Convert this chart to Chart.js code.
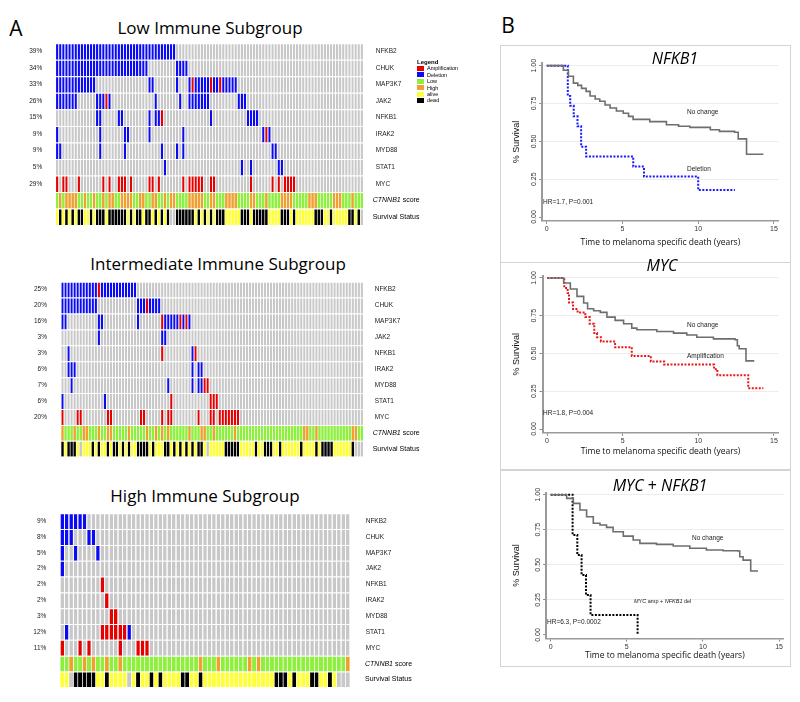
<!DOCTYPE html>
<html>
<head>
<meta charset="utf-8">
<title>NF-kB pathway alterations by immune subgroup and survival</title>
<script src="https://cdn.jsdelivr.net/npm/chart.js@4.4.1/dist/chart.umd.min.js"></script>
<style>
  body { margin: 0; background: #fff; }
  #page { position: relative; width: 800px; height: 702px; overflow: hidden; font-family: 'Liberation Sans', Arial, sans-serif; color: #000; }
  canvas { position: absolute; }
  .t { position: absolute; white-space: nowrap; line-height: 1; }
  .c { transform: translate(-50%, -50%); }
  .l { transform: translateY(-50%); }
  .sub { font-family: 'Open Sans', sans-serif; font-size: 17px; }
  .letter { font-family: 'Open Sans', sans-serif; font-size: 21px; }
  .kmt { font-family: 'Open Sans', sans-serif; font-size: 16px; font-style: italic; }
  .note { font-size: 6.5px; color: #222; }
  .box { position: absolute; border: 1px solid #d4d4d4; box-sizing: border-box; }
  #legend { position: absolute; left: 417px; top: 59px; font-size: 5.5px; line-height: 6.4px; }
  #legend b { display: block; font-size: 6px; }
  #legend span { display: inline-block; width: 7px; height: 5px; margin-right: 3px; vertical-align: -0.5px; }
</style>
</head>
<body>
<div id="page">
  <div class="t c letter" style="left:16px;top:28px">A</div>
  <div class="t c letter" style="left:508px;top:25px">B</div>

  <div class="t c sub" style="left:210px;top:27px">Low Immune Subgroup</div>
  <div class="t c sub" style="left:218px;top:263px">Intermediate Immune Subgroup</div>
  <div class="t c sub" style="left:205px;top:495px">High Immune Subgroup</div>

  <canvas id="low"></canvas>
  <canvas id="mid"></canvas>
  <canvas id="high"></canvas>

  <div id="legend">
    <b>Legend</b>
    <div><span style="background:#e60000"></span>Amplification</div>
    <div><span style="background:#0a0af5"></span>Deletion</div>
    <div><span style="background:#8cf03c"></span>Low</div>
    <div><span style="background:#f0a030"></span>High</div>
    <div><span style="background:#ffff38"></span>alive</div>
    <div><span style="background:#000"></span>dead</div>
  </div>

  <div class="box" style="left:500px;top:45px;width:291px;height:218px"></div>
  <div class="box" style="left:500px;top:262px;width:291px;height:208px"></div>
  <div class="box" style="left:500px;top:470px;width:291px;height:197px"></div>
  <canvas id="km1"></canvas>
  <canvas id="km2"></canvas>
  <canvas id="km3"></canvas>

  <div class="t c kmt" style="left:675px;top:58px">NFKB1</div>
  <div class="t c kmt" style="left:662px;top:265px">MYC</div>
  <div class="t c kmt" style="left:660px;top:485px">MYC <span style="font-style:normal">+</span> NFKB1</div>

  <div class="t l note" style="left:687px;top:112px">No change</div>
  <div class="t l note" style="left:687px;top:169px">Deletion</div>
  <div class="t l note" style="left:543px;top:202px">HR=1.7, P=0.001</div>

  <div class="t l note" style="left:687px;top:325px">No change</div>
  <div class="t l note" style="left:687px;top:356px">Amplification</div>
  <div class="t l note" style="left:543px;top:413px">HR=1.8, P=0.004</div>

  <div class="t l note" style="left:692px;top:538px">No change</div>
  <div class="t l note" style="left:634px;top:602px;font-size:5.5px"><i>MYC</i> amp + <i>NFKB1</i> del</div>
  <div class="t l note" style="left:547px;top:622px">HR=6.3, P=0.0002</div>
</div>

<script>
// ---- oncoprint data: one character per sample ----
// D = deletion, A = amplification, . = no change
// CTNNB1 score: L = low, H = high ; survival: a = alive, d = dead, n = no data
const geneNames = ['NFKB2', 'CHUK', 'MAP3K7', 'JAK2', 'NFKB1', 'IRAK2', 'MYD88', 'STAT1', 'MYC'];

const lowPct = ['39%', '34%', '33%', '26%', '15%', '9%', '9%', '5%', '29%', '', ''];
const lowRows = [
  'DDDDDDDDDD DDDDDDDDDD DDDDDDDDDD DDDDDDDDD.',
  'DDDDDDDDDD DDDDDDDDDD DDDDDDDDDD .........D DDD.......',
  'DDDDDDDDDD DDD....... .......... DD.......D ...DADDDDD ADDADDDDD.',
  'DDDDDDD... ...DDDAD.. .......... ..D....... D..DDDDDDD .........D DD........',
  '.......... ...DD..... DD........ D.DDA..... .......... D......... ..DDDD....',
  'D......... ....D..... ..DD...... D......... .D........ .......... .......DAD',
  'DD........ ....D..... ..D....... ....D....D .D........ .......... .......... DD........',
  '.......... .......... .......... .....D.... .......... .......... D..D...... ..DD......',
  'A.AA...A.. .....A.A.. AAA.A..... AA.A...... .A.AAAAA.. AA........ ...A...... A.A.AAAA..',
  'LHLHHHHLLH LLHLLHLHHL LHHHHLLHHL LHHLLHLHHL LLLHHHHHLL HHLLLHHHHL LLLHHLLLHL LLLHHHHLLL LLHHHLLLLL HHHLLLHLLL',
  'adadadadda adadddaddd dddadaddad dadadadnnd dddddadada dadddaaaaa dddaddddda aaadddadaa aaaadddaad aaaaaddadn'
];

const midPct = ['25%', '20%', '16%', '3%', '3%', '6%', '7%', '6%', '20%', '', ''];
const midRows = [
  'DDDDDDDDDD DDADDDDDDD DDDDD.....',
  'DDDDDDDDDD DD........ .....DDDAD DDD.......',
  'DD........ ..DD...... .....D.... ...ADDDDDA DAD.......',
  '.......... ..D....... .......... ...DD.....',
  '..D....... .......... .......... ...A...... ...DA.....',
  '..DDD..... .......... .......... .......... ...D.DD...',
  '...D...... .......... .......... .....D.... ...D.DDAA.',
  'D......... ....D..... .......... ......A... .........A AA........',
  'A....AA... .....AA... ......AA.. ...A.AA... .....A...A A.AAAAAAA.',
  'HLLLHLLHHL LLHLLHHLLL LLHLLLLLHL LHLHLHLLLL LLHLLLHHLL HLLLLLLHLL LLLLLLLLLL LLLLLLLLLL HHLLHLLLLL LLLLLLHHLL',
  'dadddanaaa dadaadadda dadaadddda daaaddadad adadaddana aaaaddddda aaaadaaddd aadaaaaaad aaaadadddd aaaaaadnnn'
];

const highPct = ['9%', '8%', '5%', '2%', '2%', '2%', '3%', '12%', '11%', '', ''];
const highRows = [
  'DDDDDD....',
  'DDD...DD..',
  'D..D....D.',
  'D.........',
  '.........A',
  '.......... A.........',
  '.......... .AA.......',
  '.D.......A AAAAAD....',
  'A...A.A... ...A...AAA',
  'LLHLLHLHLL HLLHLLLLLL LLLLLLLLLL LHLLLHLLLL LLHLHLLLLL LLLLLLLLLL LLLLH',
  'aandddddaa daaaanadaa dadaaaadda adaaaaaaaa aaaaaaaadd dadaaaddaa dannn'
];

// ---- Kaplan-Meier curves: [years, survival] at each step ----
const yearTicks = [0, 5, 10, 15];
const survTicks = [0, 0.25, 0.5, 0.75, 1];

const nfkb1NoChange = [[0, 1], [0.8, 1], [1.1, 0.97], [1.43, 0.93], [1.76, 0.885], [2.05, 0.87], [2.3, 0.85], [2.6, 0.83],
  [2.86, 0.8], [3.2, 0.78], [3.5, 0.765], [3.85, 0.74], [4.18, 0.72], [4.6, 0.7], [5.05, 0.686], [5.4, 0.665], [5.7, 0.645],
  [6.8, 0.63], [7.9, 0.61], [8.7, 0.6], [9.45, 0.592], [10.8, 0.577], [11.4, 0.566], [12.4, 0.56], [12.64, 0.516],
  [13.19, 0.415], [14.3, 0.415]];
const nfkb1Deletion = [[0, 1], [1.39, 0.8], [1.55, 0.735], [1.78, 0.665], [2.03, 0.6], [2.27, 0.465], [2.6, 0.4],
  [5.71, 0.333], [6.42, 0.267], [10.0, 0.178], [12.42, 0.178]];

const mycNoChange = [[0, 1], [0.77, 1], [1.1, 0.967], [1.54, 0.927], [1.98, 0.878], [2.42, 0.834], [2.68, 0.796],
  [3.08, 0.783], [3.52, 0.772], [3.96, 0.741], [4.5, 0.719], [5.06, 0.697], [5.6, 0.668], [5.94, 0.657], [7.26, 0.646],
  [8.36, 0.635], [9.24, 0.622], [9.9, 0.608], [11.0, 0.597], [12.43, 0.591], [12.58, 0.551], [12.7, 0.531],
  [13.15, 0.451], [13.7, 0.451]];
const mycAmplification = [[0, 1], [0.84, 1], [1.14, 0.934], [1.36, 0.9], [1.45, 0.838], [1.72, 0.794], [2.02, 0.772],
  [2.53, 0.741], [2.82, 0.697], [3.12, 0.635], [3.3, 0.608], [3.56, 0.58], [4.5, 0.542], [5.6, 0.484], [6.86, 0.447],
  [7.74, 0.427], [11.04, 0.396], [11.26, 0.356], [13.3, 0.27], [14.3, 0.27]];

const comboNoChange = [[0, 1], [0.72, 1], [1.05, 0.974], [1.49, 0.938], [1.92, 0.891], [2.36, 0.843], [2.8, 0.796],
  [3.24, 0.784], [3.67, 0.767], [4.1, 0.736], [4.77, 0.705], [5.42, 0.677], [5.86, 0.653], [6.95, 0.646], [8.05, 0.634],
  [9.14, 0.618], [10.23, 0.606], [11.33, 0.601], [12.3, 0.599], [12.42, 0.558], [12.64, 0.534], [13.14, 0.456],
  [13.62, 0.456]];
const comboAmpDel = [[0, 1], [1.44, 0.713], [1.75, 0.57], [2.03, 0.428], [2.32, 0.285], [2.62, 0.1425], [5.71, 0]];

Chart.defaults.font.family = "'Liberation Sans', Arial, sans-serif";

const CELL = { '.': '#c8c8c8', D: '#0a0af5', A: '#e60000', L: '#8cf03c', H: '#f0a030', a: '#ffff38', d: '#000000', n: '#c8c8c8' };

// right-hand labels that mix italic and roman text
const sideLabels = {
  id: 'sideLabels',
  afterDraw(chart, args, opts) {
    const { ctx, chartArea, scales: { y } } = chart;
    const x = chartArea.right + opts.dx;
    ctx.save();
    ctx.fillStyle = '#000';
    ctx.textBaseline = 'middle';
    const y1 = y.getPixelForValue(9.5);
    ctx.font = "italic 7px 'Liberation Sans'";
    ctx.fillText('CTNNB1', x, y1);
    const w = ctx.measureText('CTNNB1').width;
    ctx.font = "7px 'Liberation Sans'";
    ctx.fillText(' score', x + w, y1);
    ctx.fillText('Survival Status', x, y.getPixelForValue(10.5));
    ctx.restore();
  }
};

function oncoprint(id, rawRows, pcts, g) {
  const rows = rawRows.map(r => r.replace(/ /g, ''));
  const n = g.n;
  const el = document.getElementById(id);
  el.width = g.w; el.height = g.h;
  el.style.left = g.x + 'px'; el.style.top = g.y + 'px';
  const right = geneNames.concat(['', '']);
  const datasets = rows.map((r, k) => {
    const cells = r.padEnd(n, '.').split('');
    return {
      data: cells.map(() => 1),
      backgroundColor: cells.map(c => CELL[c]),
      borderColor: '#ffffff',
      borderWidth: { top: 1, right: 0, bottom: 0, left: 0 },
      borderSkipped: false,
      barPercentage: k < 9 ? g.bp : g.bp2,
      categoryPercentage: 1
    };
  });
  const tickFont = { size: 6.5 };
  new Chart(el, {
    type: 'bar',
    data: { labels: Array.from({ length: n }, (_, i) => i + 1), datasets },
    options: {
      responsive: false, animation: false,
      layout: { padding: { top: g.top - g.y, bottom: g.y + g.h - g.bottom, left: 0, right: 0 } },
      plugins: { legend: { display: false }, tooltip: { enabled: false }, sideLabels: { dx: g.dx } },
      scales: {
        x: { stacked: true, display: false },
        y: {
          stacked: true, min: 0, max: 11, reverse: true, position: 'left',
          grid: { display: false }, border: { display: false },
          afterBuildTicks: s => { s.ticks = right.map((_, i) => ({ value: i + 0.5 })); },
          afterFit: s => { s.width = g.left - g.x; s.paddingTop = 0; s.paddingBottom = 0; },
          ticks: { autoSkip: false, padding: g.lp, font: tickFont, color: '#222', callback: (v, i) => pcts[i] }
        },
        y2: {
          min: 0, max: 11, reverse: true, position: 'right',
          grid: { display: false }, border: { display: false },
          afterBuildTicks: s => { s.ticks = right.map((_, i) => ({ value: i + 0.5 })); },
          afterFit: s => { s.width = g.x + g.w - g.right; s.paddingTop = 0; s.paddingBottom = 0; },
          ticks: { autoSkip: false, padding: g.rp, font: tickFont, color: '#222', callback: (v, i) => right[i] }
        }
      }
    },
    plugins: [sideLabels]
  });
}

oncoprint('low', lowRows, lowPct, { n: 100, x: 0, y: 40, w: 480, h: 190, left: 55.7, right: 363.3, top: 43.3, bottom: 225, lp: 5.5, rp: 4.4, dx: 9.4, bp: 0.78, bp2: 0.88 });
oncoprint('mid', midRows, midPct, { n: 100, x: 0, y: 278, w: 480, h: 182, left: 61, right: 363.3, top: 281.7, bottom: 456.7, lp: 6, rp: 3.4, dx: 9.4, bp: 0.78, bp2: 0.88 });
oncoprint('high', highRows, highPct, { n: 65, x: 0, y: 510, w: 480, h: 182, left: 60, right: 350, top: 513.3, bottom: 687.3, lp: 5.7, rp: 7.7, dx: 15, bp: 0.8, bp2: 0.9 });

function kmChart(id, curves, g) {
  const el = document.getElementById(id);
  el.width = g.w; el.height = g.h;
  el.style.left = g.x + 'px'; el.style.top = g.y + 'px';
  new Chart(el, {
    type: 'line',
    data: {
      datasets: curves.map(c => ({
        data: c.pts.map(p => ({ x: p[0], y: p[1] })),
        borderColor: c.color, borderWidth: c.width, borderDash: c.dash,
        stepped: true, pointRadius: 0, fill: false
      }))
    },
    options: {
      responsive: false, animation: false,
      layout: { padding: { top: g.at - g.y, right: g.x + g.w - g.ar, left: 0, bottom: 0 } },
      plugins: { legend: { display: false }, tooltip: { enabled: false } },
      scales: {
        x: {
          type: 'linear', min: -0.3, max: 15.3,
          afterBuildTicks: s => { s.ticks = yearTicks.map(v => ({ value: v })); },
          afterFit: s => { s.height = g.y + g.h - g.ab; s.paddingLeft = 0; s.paddingRight = 0; },
          grid: { drawOnChartArea: false, tickLength: 3, color: '#888' },
          border: { color: '#9a9a9a', width: 1.5 },
          ticks: { autoSkip: false, maxRotation: 0, padding: 1.5, font: { size: 7 }, color: '#333' },
          title: {
            display: true, text: 'Time to melanoma specific death (years)', color: '#111',
            font: { family: "'Open Sans', sans-serif", size: 8.5 },
            padding: { top: 0, bottom: g.y + g.h - g.xt - 5.1 }
          }
        },
        y: {
          min: -0.025, max: 1.015,
          afterBuildTicks: s => { s.ticks = survTicks.map(v => ({ value: v })); },
          afterFit: s => { s.width = g.al - g.x; s.paddingTop = 0; s.paddingBottom = 0; },
          grid: { color: c => (c.tick && c.tick.value > 0 ? '#ececec' : 'rgba(0,0,0,0)'), tickColor: '#888', tickLength: 3 },
          border: { color: '#9a9a9a', width: 2 },
          ticks: {
            autoSkip: false, minRotation: 90, maxRotation: 90, crossAlign: 'center', padding: -1.5,
            font: { size: 7 }, color: '#333', callback: v => v.toFixed(2)
          },
          title: {
            display: true, text: '% Survival', color: '#111', font: { size: 9 },
            padding: { top: 517 - g.x - 5.4, bottom: 0 }
          }
        }
      }
    }
  });
}

const grey = '#6e6e6e';
kmChart('km1', [
  { pts: nfkb1NoChange, color: grey, width: 1.6, dash: [] },
  { pts: nfkb1Deletion, color: '#1a1aff', width: 2, dash: [2, 1.5] }
], { x: 500, y: 45, w: 291, h: 218, al: 542.2, ar: 778.5, at: 63.4, ab: 220.8, xt: 243 });

kmChart('km2', [
  { pts: mycNoChange, color: grey, width: 1.6, dash: [] },
  { pts: mycAmplification, color: '#e81818', width: 2, dash: [2, 1.5] }
], { x: 500, y: 262, w: 291, h: 208, al: 542.5, ar: 778.5, at: 275.7, ab: 432.8, xt: 452 });

kmChart('km3', [
  { pts: comboNoChange, color: grey, width: 1.6, dash: [] },
  { pts: comboAmpDel, color: '#000000', width: 2, dash: [2, 1.5] }
], { x: 500, y: 470, w: 291, h: 197, al: 546.1, ar: 783.6, at: 492.6, ab: 638.5, xt: 656 });
</script>
</body>
</html>
